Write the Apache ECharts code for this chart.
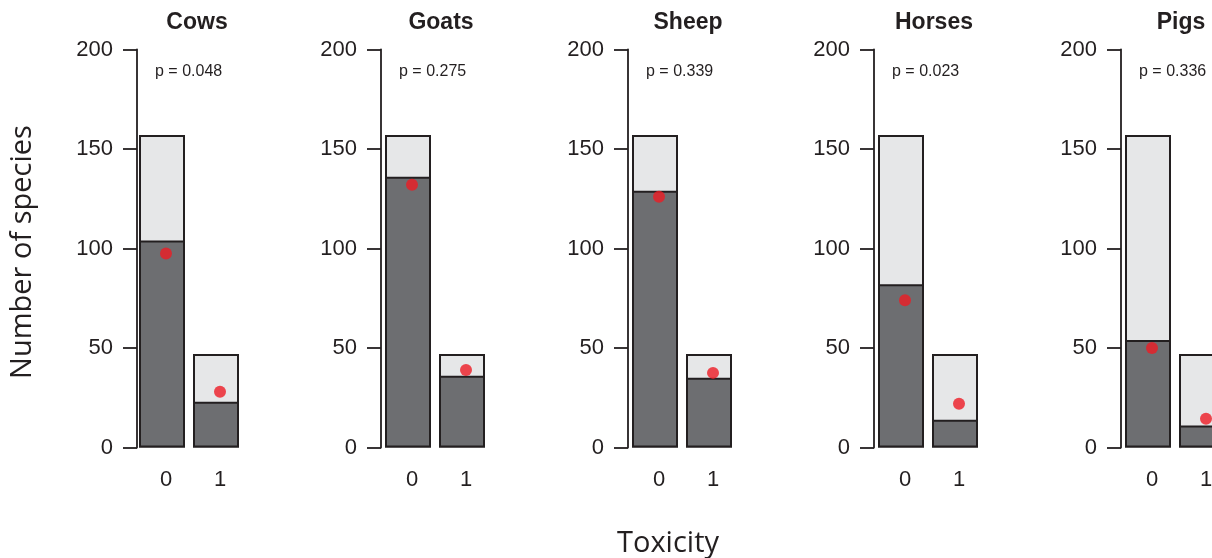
<!DOCTYPE html>
<html>
<head>
<meta charset="utf-8">
<script src="https://cdn.jsdelivr.net/npm/echarts@6/dist/echarts.min.js"></script>
<style>
  html, body { margin: 0; padding: 0; background: #ffffff; overflow: hidden; }
  /* the last panel runs past the right edge of the page */
  #chart { width: 1240px; height: 558px; }
</style>
</head>
<body>
<div id="chart"></div>
<script>
// Livestock panels and their p-values
const animals = ['Cows', 'Goats', 'Sheep', 'Horses', 'Pigs'];
const pValues = ['0.048', '0.275', '0.339', '0.023', '0.336'];

// Toxicity classes and number of plant species available in each
const toxicity = ['0', '1'];
const availableSpecies = [157, 47];

// Species eaten by each animal, per toxicity class
const eatenNonToxic = [104, 136, 129, 82, 54];
const eatenToxic = [23, 36, 35, 14, 11];

// Expected counts under no preference (red points)
const expectedNonToxic = [97.5, 132, 126, 74, 50];
const expectedToxic = [28, 39, 37.5, 22, 14.5];

// Shared y-axis scale
const yMin = 0, yMax = 200, yStep = 50;

// Panel layout (left edge of each plotting area, axis nudge)
const panelLeft = [135, 381, 628, 874, 1121];
const axisNudge = [-2, 0, 0, 0, 0];
const panelWidth = 108;
const plotTop = 49.5;
const plotHeight = 398;

const ink = '#231f20';
const numFont = '"Liberation Sans", Arial, sans-serif';
const labelFont = '"Open Sans", "Noto Sans", sans-serif';

const grids = [], xAxes = [], yAxes = [], series = [], texts = [];

animals.forEach((name, i) => {
  grids.push({ left: panelLeft[i], top: plotTop, width: panelWidth, height: plotHeight });

  xAxes.push({
    type: 'category', gridIndex: i, data: toxicity,
    axisLine: { show: false }, axisTick: { show: false },
    axisLabel: { fontSize: 22, fontFamily: numFont, color: ink, margin: 21, padding: [0, 0, 0, 8] }
  });

  yAxes.push({
    type: 'value', gridIndex: i, min: yMin, max: yMax, interval: yStep,
    offset: axisNudge[i],
    splitLine: { show: false },
    axisLine: { show: true, lineStyle: { color: ink, width: 1.8 } },
    axisTick: { show: true, length: 14, lineStyle: { color: ink, width: 1.8 } },
    axisLabel: { fontSize: 22, fontFamily: numFont, color: ink, margin: 24 }
  });

  // available species (light) with eaten species (dark) drawn over it
  series.push({
    type: 'bar', xAxisIndex: i, yAxisIndex: i, barWidth: 46, barGap: '-100%',
    data: availableSpecies,
    itemStyle: { color: '#e6e7e8', borderColor: ink, borderWidth: 2 },
    silent: true, z: 2
  });
  series.push({
    type: 'bar', xAxisIndex: i, yAxisIndex: i, barWidth: 46, barGap: '-100%',
    data: [eatenNonToxic[i], eatenToxic[i]],
    itemStyle: { color: '#6d6e71', borderColor: ink, borderWidth: 2 },
    silent: true, z: 3
  });
  series.push({
    type: 'scatter', xAxisIndex: i, yAxisIndex: i,
    data: [expectedNonToxic[i], expectedToxic[i]],
    symbol: 'circle', symbolSize: 12, symbolOffset: [4, 0],
    itemStyle: { color: '#ed1c24' },
    silent: true, z: 5
  });

  const centre = panelLeft[i] - axisNudge[i] + 60;
  texts.push({
    type: 'text', x: centre, y: 23,
    style: { text: name, font: 'bold 23px ' + numFont, fill: ink, align: 'center', verticalAlign: 'middle' }
  });
  texts.push({
    type: 'text', x: panelLeft[i] - axisNudge[i] + 18, y: 72,
    style: { text: 'p = ' + pValues[i], font: '16px ' + numFont, fill: ink, align: 'left', verticalAlign: 'middle' }
  });
});

texts.push({
  type: 'text', x: 23, y: 252, rotation: Math.PI / 2,
  style: { text: 'Number of species', font: '29px ' + labelFont, fill: ink, align: 'center', verticalAlign: 'middle' }
});
texts.push({
  type: 'text', x: 668, y: 544,
  style: { text: 'Toxicity', font: '29px ' + labelFont, fill: ink, align: 'center', verticalAlign: 'middle' }
});

const chart = echarts.init(document.getElementById('chart'), null, { renderer: 'canvas' });
chart.setOption({
  animation: false,
  backgroundColor: '#ffffff',
  grid: grids,
  xAxis: xAxes,
  yAxis: yAxes,
  series: series,
  graphic: texts
});
</script>
</body>
</html>
